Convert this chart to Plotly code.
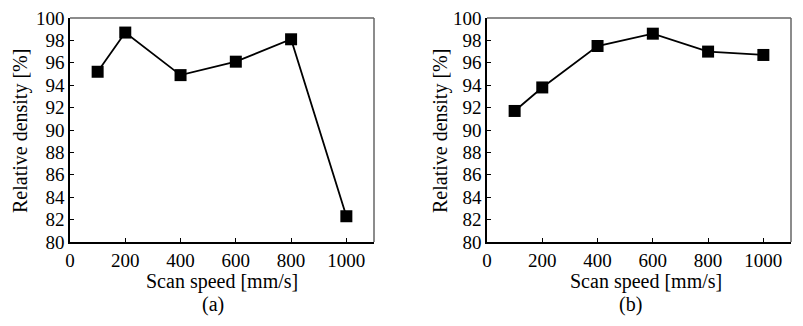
import plotly.graph_objects as go

speed = [100, 200, 400, 600, 800, 1000]
density_a = [95.2, 98.7, 94.9, 96.1, 98.1, 82.3]
density_b = [91.7, 93.8, 97.5, 98.6, 97.0, 96.7]
x_ticks = [0, 200, 400, 600, 800, 1000]
y_ticks = [80, 82, 84, 86, 88, 90, 92, 94, 96, 98, 100]
panel_labels = ["(a)", "(b)"]
x_title = "Scan speed [mm/s]"
y_title = "Relative density [%]"

W, H = 803, 326
FONT = "Liberation Serif, Times New Roman, serif"
TICK = 19
TITLE = 20

fig = go.Figure()
for i, dens in enumerate([density_a, density_b]):
    fig.add_trace(go.Scatter(
        x=speed, y=dens, mode="lines+markers",
        xaxis="x" if i == 0 else "x2", yaxis="y" if i == 0 else "y2",
        line=dict(color="black", width=1.8),
        marker=dict(symbol="square", size=12, color="black"),
        showlegend=False))

dom_a = [70 / W, 374 / W]
dom_b = [487 / W, 791 / W]
ydom = [1 - 242 / H, 1 - 18 / H]

def xax(dom, anchor):
    return dict(domain=dom, anchor=anchor, range=[0, 1100], tickvals=x_ticks,
                ticks="inside", ticklen=4, tickcolor="black", showline=True,
                linecolor="black", linewidth=1.5, showgrid=False, zeroline=False,
                automargin=False, ticklabelstandoff=0,
                tickfont=dict(family=FONT, size=TICK, color="black"))

def yax(anchor):
    return dict(domain=ydom, anchor=anchor, range=[80, 100], tickvals=y_ticks,
                ticks="inside", ticklen=4, tickcolor="black", showline=True,
                linecolor="black", linewidth=1.5, showgrid=False, zeroline=False,
                automargin=False, ticklabelstandoff=0,
                tickfont=dict(family=FONT, size=TICK, color="black"))

shapes = []
for xr, yr in [("x domain", "y domain"), ("x2 domain", "y2 domain")]:
    shapes.append(dict(type="line", xref=xr, yref=yr, x0=0, x1=1, y0=1, y1=1,
                       line=dict(color="#666666", width=1.5)))
    shapes.append(dict(type="line", xref=xr, yref=yr, x0=1, x1=1, y0=0, y1=1,
                       line=dict(color="#666666", width=1.5)))

f = dict(family=FONT, size=TITLE, color="black")
annotations = []
for lab, xt, lx, yx in zip(panel_labels, [222, 646], [213, 630], [20, 440]):
    annotations.append(dict(text=lab, xref="paper", yref="paper", x=lx / W, y=1 - 304 / H,
                            showarrow=False, font=f, xanchor="center", yanchor="middle"))
    annotations.append(dict(text=x_title, xref="paper", yref="paper", x=xt / W, y=1 - 281 / H,
                            showarrow=False, font=f, xanchor="center", yanchor="middle"))
    annotations.append(dict(text=y_title, xref="paper", yref="paper", x=yx / W, y=1 - 131 / H,
                            showarrow=False, font=f, textangle=-90,
                            xanchor="center", yanchor="middle"))

fig.update_layout(
    width=W, height=H, margin=dict(l=0, r=0, t=0, b=0),
    paper_bgcolor="white", plot_bgcolor="white",
    xaxis=xax(dom_a, "y"), yaxis=yax("x"),
    xaxis2=xax(dom_b, "y2"), yaxis2=yax("x2"),
    shapes=shapes, annotations=annotations,
)
fig.write_html("out.html")
